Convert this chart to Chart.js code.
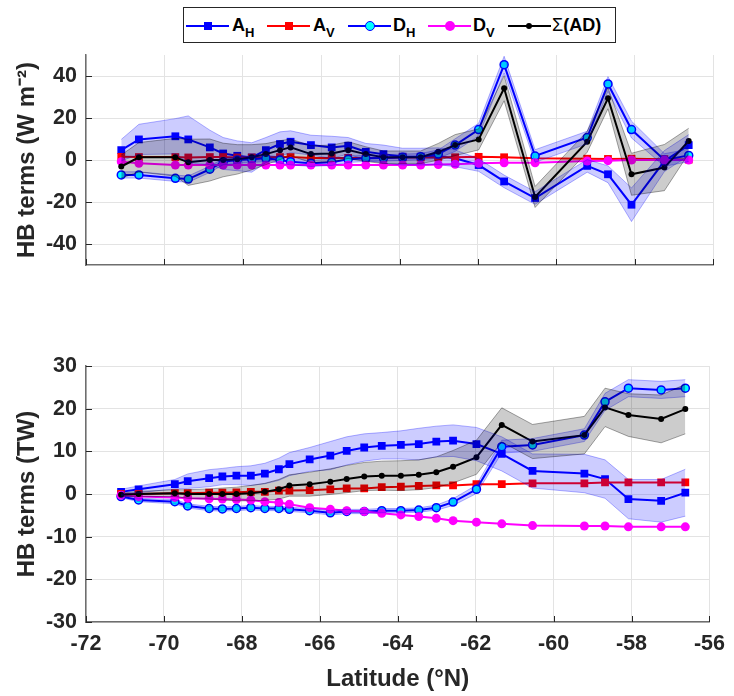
<!DOCTYPE html>
<html><head><meta charset="utf-8">
<script src="https://cdn.jsdelivr.net/npm/chart.js@4/dist/chart.umd.min.js"></script>
<style>
html,body{margin:0;padding:0;background:#fff;}
#wrap{position:relative;width:734px;height:696px;overflow:hidden;font-family:"Liberation Sans",Arial,sans-serif;}
#c1{position:absolute;left:0;top:0px;}
#c2{position:absolute;left:0;top:300px;}
#legend{position:absolute;left:183px;top:7px;width:431px;height:34px;border:1px solid #262626;background:#fff;z-index:5;}
.ln{position:absolute;height:2px;top:17px;width:43px;}
.mk{position:absolute;box-sizing:border-box;}
.tx{position:absolute;top:8px;font-weight:bold;font-size:18px;line-height:18px;color:#000;white-space:nowrap;}
.tx sub{font-size:13px;vertical-align:-6px;line-height:0;}
.sg{font-weight:normal;}
</style></head>
<body>
<div id="wrap">
  <canvas id="c1" width="734" height="300"></canvas>
  <canvas id="c2" width="734" height="396"></canvas>
  <div id="legend">
    <div class="ln" style="left:2px;background:#0000ff"></div>
    <div class="mk" style="left:20px;top:14px;width:8px;height:8px;background:#0000ff"></div>
    <div class="tx" style="left:48px">A<sub>H</sub></div>

    <div class="ln" style="left:83px;background:#ff0000"></div>
    <div class="mk" style="left:101px;top:14px;width:8px;height:8px;background:#ff0000"></div>
    <div class="tx" style="left:129px">A<sub>V</sub></div>

    <div class="ln" style="left:164px;background:#0000ff"></div>
    <div class="mk" style="left:181px;top:13px;width:10px;height:10px;border-radius:50%;background:#00ffff;border:1.5px solid #0000ff"></div>
    <div class="tx" style="left:209px">D<sub>H</sub></div>

    <div class="ln" style="left:244px;background:#ff00ff"></div>
    <div class="mk" style="left:261px;top:13px;width:10px;height:10px;border-radius:50%;background:#ff00ff"></div>
    <div class="tx" style="left:289px">D<sub>V</sub></div>

    <div class="ln" style="left:324px;background:#000"></div>
    <div class="mk" style="left:342px;top:15px;width:6px;height:6px;border-radius:50%;background:#000"></div>
    <div class="tx" style="left:368px"><span class="sg">&Sigma;</span>(AD)</div>
  </div>
</div>
<script>
// ---- data ----
const lat = [-71.1, -70.65, -69.72, -69.39, -68.84, -68.5, -68.14, -67.77, -67.41, -67.05, -66.78, -66.26, -65.73, -65.31, -64.86, -64.41, -63.92, -63.46, -63.01, -62.58, -61.98, -61.33, -60.54, -59.21, -58.68, -58.08, -57.24, -56.62];
const xTicks = [-72, -70, -68, -66, -64, -62, -60, -58, -56];
const yTicksTop = [-40, -20, 0, 20, 40];
const yTicksBot = [-30, -20, -10, 0, 10, 20, 30];

// top panel (W m^-2)
const topAH = [4.7, 9.8, 11.3, 9.8, 6.0, 3.1, 2.0, 1.2, 4.7, 7.6, 8.7, 7.1, 6.0, 6.8, 3.9, 2.8, 1.6, 1.6, 1.8, 0.8, -2.4, -10.2, -18.1, -2.8, -6.8, -21.3, -0.5, 7.1];
const topAV = [1.5, 1.4, 1.4, 1.2, 1.4, 1.4, 1.2, 1.2, 1.3, 1.4, 1.4, 1.0, 1.0, 1.0, 1.0, 1.0, 1.2, 1.2, 1.2, 1.3, 1.5, 1.3, 0.8, 0.6, 0.5, 0.6, 0.4, 0.2];
const topDH = [-7.1, -7.1, -8.7, -9.1, -4.4, -0.8, 0.0, 0.3, 0.8, 0.0, -0.8, -1.6, -1.1, 0.3, 0.8, 1.0, 1.3, 1.6, 2.8, 7.1, 14.5, 45.4, 1.9, 10.7, 36.2, 14.5, 0.0, 2.2];
const topDV = [-0.8, -1.6, -2.4, -2.4, -2.4, -2.4, -2.4, -2.4, -2.4, -2.4, -2.4, -2.4, -2.4, -2.4, -2.4, -2.4, -2.4, -2.4, -2.2, -2.0, -1.6, -1.3, -1.3, -0.5, -0.3, 0.0, 0.0, 0.0];
const topSum = [-3.1, 1.3, 1.3, -1.1, 0.0, 0.0, 0.3, 1.3, 2.8, 4.7, 6.0, 2.8, 3.1, 4.7, 2.8, 1.3, 1.3, 1.3, 3.9, 7.1, 9.8, 34.2, -17.6, 8.7, 29.4, -6.8, -3.6, 9.1];
const topAHerr = [5.1, 7.2, 8.4, 11.2, 8.2, 7.6, 7.1, 7.0, 6.0, 5.8, 5.2, 4.7, 5.3, 3.9, 4.0, 4.3, 4.0, 4.0, 4.0, 4.0, 3.0, 3.0, 3.0, 3.0, 4.0, 8.0, 5.0, 5.0];
const topDHerr = [1.5, 1.5, 1.5, 1.5, 1.5, 1.5, 1.5, 1.5, 1.5, 1.5, 1.5, 1.5, 1.5, 1.5, 1.5, 1.5, 1.5, 1.5, 2.0, 3.0, 3.0, 4.0, 3.0, 3.0, 3.5, 4.0, 3.0, 3.0];
const topSumErr = [5.5, 7.0, 9.0, 11.0, 10.0, 8.0, 7.0, 6.0, 5.0, 4.5, 4.0, 4.0, 4.0, 4.0, 3.5, 3.0, 3.0, 3.0, 4.0, 5.0, 5.0, 6.0, 5.0, 5.0, 5.0, 10.0, 11.0, 6.0];

// bottom panel (TW)
const botAH = [0.5, 1.1, 2.3, 3.0, 3.7, 4.1, 4.3, 4.3, 4.8, 5.8, 7.0, 8.1, 9.0, 10.1, 10.9, 11.3, 11.5, 11.7, 12.3, 12.5, 11.7, 9.4, 5.4, 4.8, 3.5, -1.2, -1.6, 0.3];
const botAV = [0.0, 0.0, 0.2, 0.2, 0.3, 0.3, 0.4, 0.5, 0.5, 0.8, 0.8, 0.9, 1.1, 1.3, 1.3, 1.6, 1.7, 1.9, 2.0, 2.0, 2.3, 2.3, 2.5, 2.5, 2.7, 2.7, 2.7, 2.7];
const botDH = [-0.6, -1.4, -1.8, -2.8, -3.4, -3.5, -3.4, -3.2, -3.4, -3.4, -3.6, -3.9, -4.4, -4.1, -4.1, -3.9, -3.9, -3.75, -3.2, -1.9, 1.1, 11.1, 11.5, 13.8, 21.6, 24.8, 24.4, 24.8];
const botDV = [-0.3, -0.6, -0.8, -1.0, -1.1, -1.2, -1.3, -1.4, -1.8, -2.0, -2.4, -3.2, -3.6, -3.9, -4.1, -4.5, -4.9, -5.3, -5.7, -6.25, -6.6, -7.0, -7.4, -7.5, -7.5, -7.7, -7.7, -7.7];
const botSum = [-0.2, 0.0, 0.2, 0.0, 0.0, 0.0, 0.0, 0.2, 0.5, 1.1, 2.0, 2.3, 2.9, 3.5, 4.1, 4.3, 4.3, 4.5, 5.1, 6.4, 8.6, 16.2, 12.3, 13.8, 20.3, 18.5, 17.6, 19.9];
const botAHerr = [0.6, 0.8, 1.1, 1.7, 2.0, 1.9, 2.1, 2.3, 2.4, 2.6, 2.7, 2.8, 3.3, 3.3, 3.2, 3.1, 3.3, 3.7, 3.6, 3.7, 3.9, 4.0, 4.0, 4.5, 4.5, 4.6, 5.0, 5.5];
const botDHerr = [0.3, 0.4, 0.5, 0.5, 0.5, 0.5, 0.5, 0.5, 0.5, 0.5, 0.5, 0.5, 0.5, 0.5, 0.5, 0.5, 0.5, 0.5, 0.6, 0.8, 1.0, 1.5, 1.5, 1.5, 2.0, 2.0, 2.0, 2.0];
const botSumErr = [0.4, 0.6, 0.8, 1.0, 1.2, 1.4, 1.6, 1.8, 2.0, 2.3, 2.5, 2.8, 3.0, 3.2, 3.3, 3.4, 3.5, 3.5, 3.6, 3.8, 4.0, 4.0, 4.0, 4.4, 4.5, 5.0, 5.6, 5.8];

// ---- build ----
const TXT = '#262626';
function pts(vals, err, sign) { return lat.map((x, i) => ({x, y: vals[i] + (err ? sign * err[i] : 0)})); }
function series(label, vals, line, style, r, fillc, edge, bw, order) {
  return {label, data: pts(vals), borderColor: line, borderWidth: 2, pointStyle: style, pointRadius: r,
    pointBackgroundColor: fillc, pointBorderColor: edge, pointBorderWidth: bw, fill: false, order, tension: 0};
}
function band(vals, err, fillc, edge, order) {
  return [
    {label: 'u', data: pts(vals, err, 1), borderColor: edge, borderWidth: 1, pointRadius: 0, fill: false, order},
    {label: 'l', data: pts(vals, err, -1), borderColor: edge, borderWidth: 1, pointRadius: 0, fill: '-1', backgroundColor: fillc, order}
  ];
}
const BLUE_F = 'rgba(0,0,255,0.2)', BLUE_E = 'rgba(0,0,255,0.3)';
const GRAY_F = 'rgba(0,0,0,0.2)', GRAY_E = 'rgba(0,0,0,0.35)';

function datasets(AH, AV, DH, DV, S, AHe, DHe, Se) {
  return [
    series('A_H', AH, '#0000ff', 'rect', 5.5, '#0000ff', '#0000ff', 0, 14),
    series('A_V', AV, '#ff0000', 'rect', 5.5, '#ff0000', '#ff0000', 0, 13),
    series('D_H', DH, '#0000ff', 'circle', 4, '#00ffff', '#0000ff', 1.5, 12),
    series('D_V', DV, '#ff00ff', 'circle', 4.5, '#ff00ff', '#ff00ff', 0, 11),
    series('Sum', S, '#000000', 'circle', 3, '#000000', '#000000', 0, 10),
    ...band(AH, AHe, BLUE_F, BLUE_E, 3),
    ...band(DH, DHe, BLUE_F, BLUE_E, 2),
    ...band(S, Se, GRAY_F, GRAY_E, 1)
  ];
}

const inwardTicks = {
  id: 'inwardTicks',
  afterDraw(chart) {
    const {ctx, chartArea: a, scales: {x, y}} = chart;
    ctx.save(); ctx.strokeStyle = TXT; ctx.lineWidth = 1; ctx.beginPath();
    x.ticks.forEach(t => { const p = Math.round(x.getPixelForValue(t.value)) + 0.5; ctx.moveTo(p, a.bottom); ctx.lineTo(p, a.bottom - 6); });
    y.ticks.forEach(t => { const p = Math.round(y.getPixelForValue(t.value)) + 0.5; ctx.moveTo(a.left, p); ctx.lineTo(a.left + 6, p); });
    ctx.stroke(); ctx.restore();
  }
};

function makeChart(id, ds, yMin, yMax, yTicks, yTitle, showX, padTop, xHeight) {
  return new Chart(document.getElementById(id), {
    type: 'line',
    data: {datasets: ds},
    options: {
      responsive: false, animation: false, devicePixelRatio: 1,
      layout: {padding: {top: padTop, right: 21, left: 0, bottom: 0}},
      plugins: {legend: {display: false}, tooltip: {enabled: false}},
      scales: {
        x: {type: 'linear', min: -72, max: -56,
          afterBuildTicks: s => { s.ticks = xTicks.map(v => ({value: v})); },
          afterFit: s => { s.height = xHeight; },
          grid: {color: '#e3e3e3', drawTicks: false},
          border: {display: true, color: '#6e6e6e', width: 1.5},
          ticks: {display: showX, padding: 9, color: TXT, font: {family: 'Liberation Sans', size: 21.5, weight: 'bold'}},
          title: {display: showX, text: 'Latitude (°N)', color: TXT, padding: {top: 0, bottom: 2}, font: {family: 'Liberation Sans', size: 24, weight: 'bold'}}
        },
        y: {type: 'linear', min: yMin, max: yMax,
          afterBuildTicks: s => { s.ticks = yTicks.map(v => ({value: v})); },
          afterFit: s => { s.width = 86; },
          grid: {color: '#e3e3e3', drawTicks: false},
          border: {display: true, color: '#6e6e6e', width: 1.5},
          ticks: {padding: 9, color: TXT, font: {family: 'Liberation Sans', size: 21.5, weight: 'bold'}},
          title: {display: true, text: yTitle, color: TXT, padding: {top: 13, bottom: 0}, font: {family: 'Liberation Sans', size: 24, weight: 'bold'}}
        }
      }
    },
    plugins: [inwardTicks]
  });
}

makeChart('c1', datasets(topAH, topAV, topDH, topDV, topSum, topAHerr, topDHerr, topSumErr), -50, 50, yTicksTop, 'HB terms (W m⁻²)', false, 55, 35);
makeChart('c2', datasets(botAH, botAV, botDH, botDV, botSum, botAHerr, botDHerr, botSumErr), -30, 30, yTicksBot, 'HB terms (TW)', true, 66, 74);
</script>
</body></html>
